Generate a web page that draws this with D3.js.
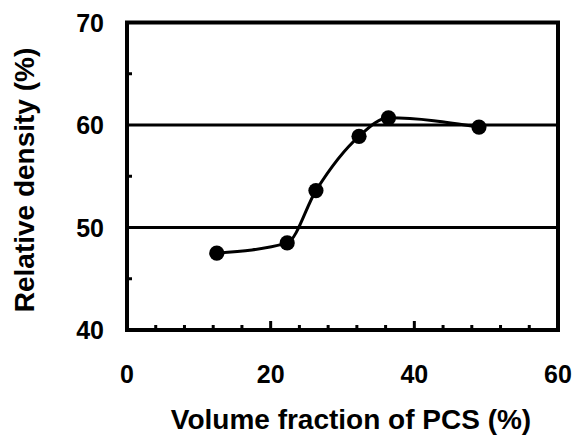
<!DOCTYPE html>
<meta charset="utf-8">
<script src="https://d3js.org/d3.v7.min.js"></script>
<style>
  body { margin: 0; background: #fff; }
  svg text { font-family: "Liberation Sans", Arial, sans-serif; font-weight: bold; fill: #000; }
</style>
<body>
<div id="chart"></div>
<script>
// data
var volumeFraction = [12.5, 22.3, 26.3, 32.3, 36.4, 49.0];
var relDensity = [47.5, 48.5, 53.6, 58.9, 60.7, 59.8];
var xTicks = [0, 20, 40, 60];
var yTicks = [40, 50, 60, 70];
var gridValues = [50, 60];

var W = 572, H = 437;
var margin = {top: 22.5, right: 14, bottom: 107, left: 127};
var w = W - margin.left - margin.right,
    h = H - margin.top - margin.bottom;

var svg = d3.select("#chart").append("svg")
    .attr("width", W)
    .attr("height", H);

var g = svg.append("g")
    .attr("transform", "translate(" + margin.left + "," + margin.top + ")");

var x = d3.scaleLinear().domain([0, 60]).range([0, w]);
var y = d3.scaleLinear().domain([40, 70]).range([h, 0]);

// horizontal gridlines at major y values
g.selectAll(".grid")
  .data(gridValues)
  .enter().append("line")
    .attr("x1", 0).attr("x2", w)
    .attr("y1", d => y(d)).attr("y2", d => y(d))
    .attr("stroke", "#000")
    .attr("stroke-width", 3);

// minor ticks (inside)
var xMinor = d3.range(0, 61, 4);
g.selectAll(".xminor")
  .data(xMinor)
  .enter().append("line")
    .attr("x1", d => x(d)).attr("x2", d => x(d))
    .attr("y1", h).attr("y2", d => (d % 20 === 0) ? h - 9 : h - 5)
    .attr("stroke", "#000").attr("stroke-width", 3);

var yMinor = [45, 55, 65];
g.selectAll(".yminor")
  .data(yMinor)
  .enter().append("line")
    .attr("x1", 0).attr("x2", 5)
    .attr("y1", d => y(d)).attr("y2", d => y(d))
    .attr("stroke", "#000").attr("stroke-width", 3);

// frame
g.append("rect")
    .attr("x", 0).attr("y", 0)
    .attr("width", w).attr("height", h)
    .attr("fill", "none")
    .attr("stroke", "#000")
    .attr("stroke-width", 4);

// tick labels
g.selectAll(".xlab")
  .data(xTicks)
  .enter().append("text")
    .attr("x", d => x(d))
    .attr("y", h + 53)
    .attr("text-anchor", "middle")
    .style("font-size", "25px")
    .text(d => d);

g.selectAll(".ylab")
  .data(yTicks)
  .enter().append("text")
    .attr("x", -23)
    .attr("y", d => y(d) + 9)
    .attr("text-anchor", "end")
    .style("font-size", "25px")
    .text(d => d);

// axis titles
svg.append("text")
    .attr("x", 351)
    .attr("y", 429)
    .attr("text-anchor", "middle")
    .style("font-size", "28px")
    .text("Volume fraction of PCS (%)");

svg.append("text")
    .attr("transform", "translate(34,180) rotate(-90)")
    .attr("text-anchor", "middle")
    .style("font-size", "28px")
    .text("Relative density (%)");

// smoothed line + markers
var pts = volumeFraction.map((v, i) => [v, relDensity[i]]);
var line = d3.line()
    .x(d => x(d[0]))
    .y(d => y(d[1]))
    .curve(d3.curveMonotoneX);

g.append("path")
    .datum(pts)
    .attr("d", line)
    .attr("fill", "none")
    .attr("stroke", "#000")
    .attr("stroke-width", 3);

g.selectAll(".dot")
  .data(pts)
  .enter().append("circle")
    .attr("cx", d => x(d[0]))
    .attr("cy", d => y(d[1]))
    .attr("r", 7.6)
    .attr("fill", "#000");
</script>
</body>
